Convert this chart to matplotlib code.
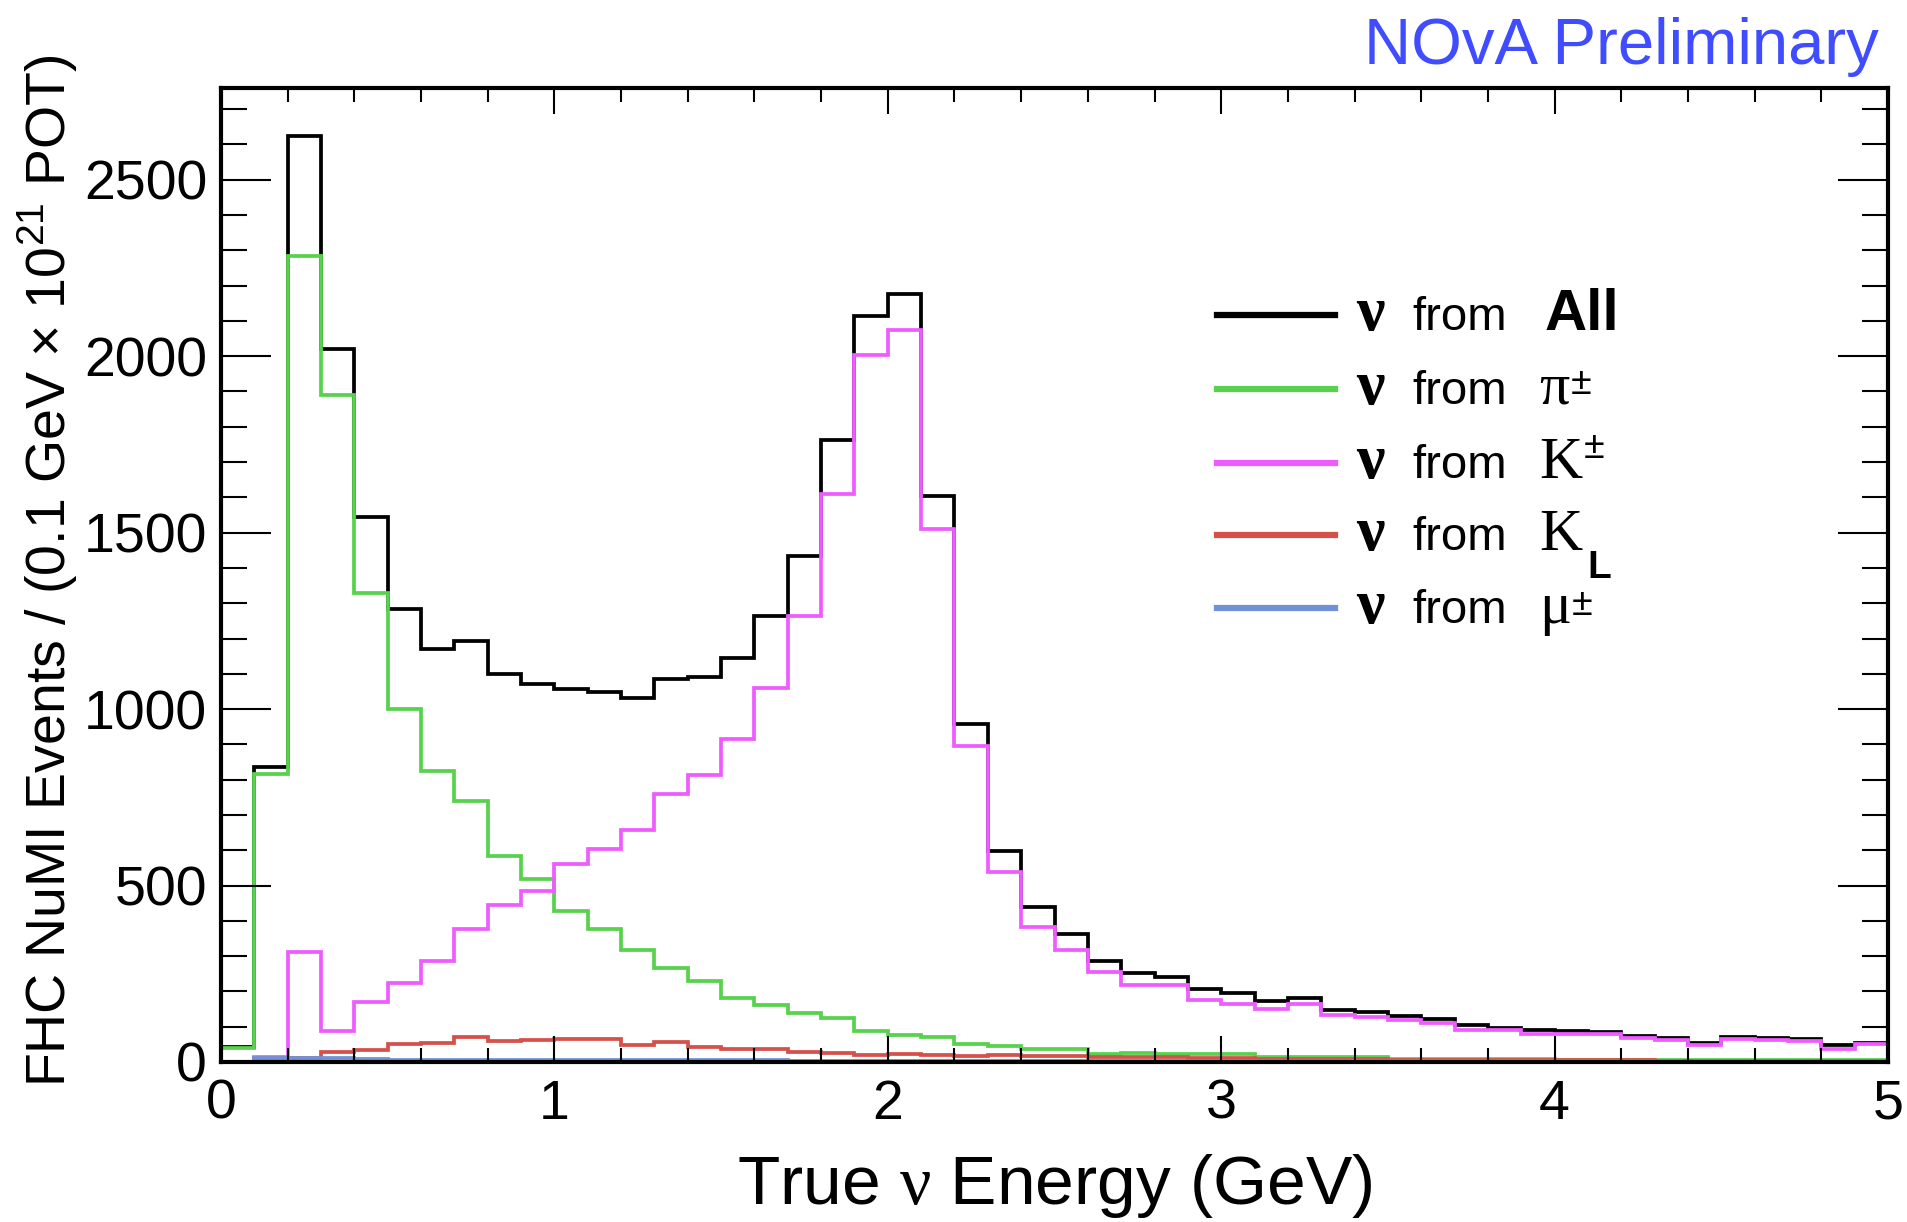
import numpy as np
import matplotlib
matplotlib.use("Agg")
import matplotlib.pyplot as plt
from matplotlib.lines import Line2D
from matplotlib.ticker import MultipleLocator

plt.rcParams["font.family"] = ["Liberation Sans", "DejaVu Sans"]
plt.rcParams["mathtext.fontset"] = "custom"
plt.rcParams["mathtext.rm"] = "Liberation Sans"
plt.rcParams["mathtext.sf"] = "Liberation Serif"
plt.rcParams["mathtext.bf"] = "Liberation Sans:bold"

# 50 bins of 0.1 GeV from 0 to 5 GeV
bin_edges = np.round(np.arange(51) * 0.1, 2)

all_nu = [42, 835, 2624, 2021, 1545, 1285, 1170, 1193, 1100, 1071,
          1056, 1048, 1031, 1085, 1091, 1145, 1265, 1434, 1763, 2115,
          2176, 1604, 957, 599, 438, 363, 286, 252, 240, 206,
          196, 174, 182, 146, 141, 130, 123, 104, 97, 90,
          87, 85, 75, 69, 55, 71, 69, 66, 47, 54]
from_pi = [40, 815, 2283, 1889, 1328, 1001, 825, 739, 583, 518,
           428, 376, 318, 265, 230, 180, 161, 138, 124, 88,
           76, 72, 50, 44, 38, 38, 22, 25, 22, 22,
           22, 14, 14, 14, 14, 9, 9, 9, 9, 9,
           5, 5, 5, 5, 5, 5, 5, 5, 5, 5]
from_k = [0, 15, 311, 88, 169, 224, 287, 378, 446, 485,
          561, 603, 657, 760, 812, 916, 1061, 1265, 1609, 2002,
          2075, 1511, 895, 538, 382, 316, 255, 217, 217, 176,
          165, 151, 163, 132, 127, 120, 110, 91, 90, 80,
          80, 78, 69, 61, 47, 66, 61, 59, 38, 50]
from_kl = [0, 3, 10, 28, 35, 50, 55, 70, 60, 62,
           65, 65, 48, 56, 43, 36, 36, 29, 25, 20,
           23, 20, 16, 19, 18, 17, 15, 14, 13, 12,
           11, 9, 9, 8, 8, 7, 7, 6, 6, 6,
           5, 5, 5, 4, 4, 4, 4, 4, 3, 3]
from_mu = [0, 12, 12, 10, 8, 6, 6, 6, 6, 6,
           6, 6, 5, 5, 5, 5, 5, 4, 4, 4,
           4, 4, 4, 4, 3, 3, 3, 3, 3, 3,
           3, 3, 3, 3, 3, 2, 2, 2, 2, 2,
           2, 2, 2, 2, 2, 2, 2, 2, 2, 2]

# (values, colour, parent symbol, superscript, subscript)
series = [
    (all_nu, "#000000", "All", "", ""),
    (from_pi, "#58d24c", "\u03c0", "\u00b1", ""),
    (from_k, "#ee5cff", "K", "\u00b1", ""),
    (from_kl, "#d6504a", "K", "", "L"),
    (from_mu, "#7092d4", "\u03bc", "\u00b1", ""),
]

W, H = 1907, 1222
fig = plt.figure(figsize=(W / 100, H / 100), dpi=100)
ax = fig.add_axes([221 / W, 1 - 1062 / H, (1888 - 221) / W, (1062 - 88) / H])

for vals, color, *_ in series:
    ax.stairs(vals, bin_edges, color=color, linewidth=2.7)

ax.set_xlim(0, 5)
ax.set_ylim(0, 2760)
ax.xaxis.set_major_locator(MultipleLocator(1))
ax.xaxis.set_minor_locator(MultipleLocator(0.2))
ax.yaxis.set_major_locator(MultipleLocator(500))
ax.yaxis.set_minor_locator(MultipleLocator(100))
ax.tick_params(axis="both", which="both", direction="in", top=True, right=True)
ax.tick_params(axis="x", which="major", length=19, width=1.5, labelsize=40, pad=12)
ax.tick_params(axis="x", which="minor", length=10, width=1.5)
ax.tick_params(axis="y", which="major", length=36, width=1.5, labelsize=40, pad=10)
ax.tick_params(axis="y", which="minor", length=19, width=1.5)
for sp in ax.spines.values():
    sp.set_linewidth(3)

fig.text(48 / W, 1 - 571 / H,
         r"FHC NuMI Events / (0.1 GeV $\times$ 10$^{21}$ POT)",
         rotation=90, ha="center", va="center", fontsize=40)
fig.text(1055 / W, 1 - 1204 / H, r"True $\mathsf{\nu}$ Energy (GeV)",
         ha="center", va="baseline", fontsize=50)
fig.text(1879 / W, 1 - 64 / H, "NOvA Preliminary", color="#3f4cff",
         ha="right", va="baseline", fontsize=47)

# legend, drawn by hand to get the mixed fonts and sizes
row_y = [315, 389, 463, 535, 608]
sup_x = [0, 1571, 1584, 0, 1572]
sup_lift = [0, 10, 20, 0, 8]
for (vals, color, sym, sup, sub), y, sx, lift in zip(series, row_y, sup_x, sup_lift):
    fy = 1 - y / H
    base = y + 15
    fb = 1 - base / H
    fig.add_artist(Line2D([1217 / W, 1335 / W], [fy, fy], color=color,
                          linewidth=4.5, transform=fig.transFigure))
    fig.text(1356 / W, fb, "\u03bd", fontsize=46, fontfamily="Liberation Serif",
             fontweight="bold", va="baseline")
    fig.text(1412 / W, fb, "from", fontsize=34, va="baseline")
    if sym == "All":
        fig.text(1545 / W, fb, sym, fontsize=42, fontweight="bold", va="baseline")
    else:
        fig.text(1539 / W, fb, sym, fontsize=43, fontfamily="Liberation Serif",
                 va="baseline")
    if sup:
        fig.text(sx / W, 1 - (base - lift) / H, sup, fontsize=27, va="baseline")
    if sub:
        fig.text(1587 / W, 1 - 578 / H, sub, fontsize=28, fontweight="bold",
                 va="baseline")

fig.savefig("out.png", dpi=100)
